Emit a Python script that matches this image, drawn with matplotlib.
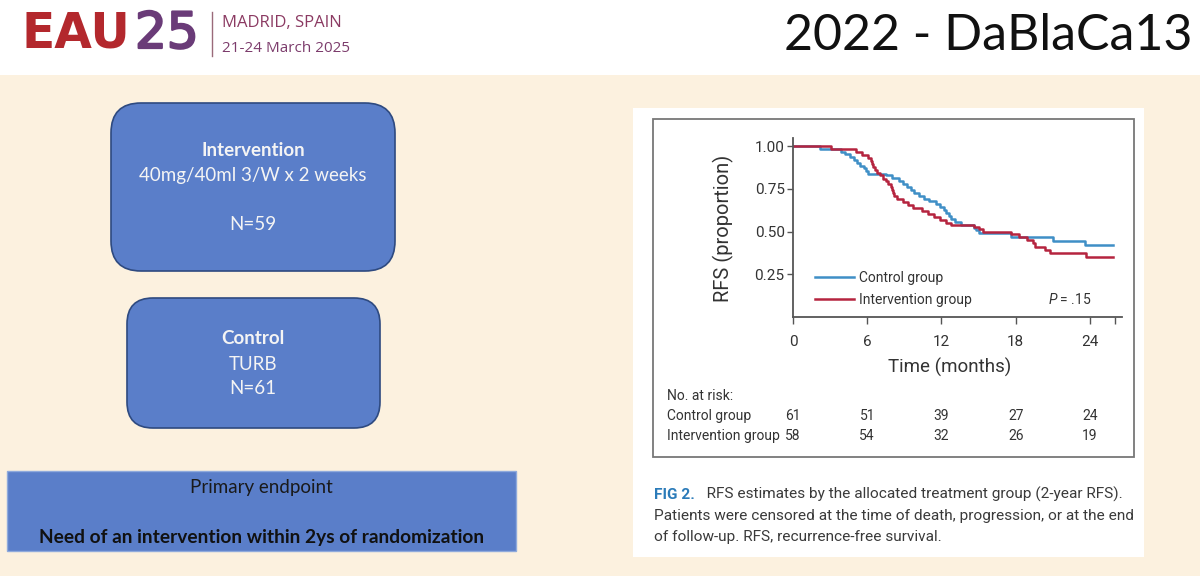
import matplotlib
matplotlib.use("Agg")
import matplotlib.pyplot as plt
from matplotlib.patches import Rectangle, FancyBboxPatch
import matplotlib.patheffects as pe
import matplotlib.transforms as mtransforms

# ---------------- data ----------------
ctrl_time = [0, 2.2, 3.9, 4.2, 4.6, 4.9, 5.2, 5.4, 5.7, 5.9, 6.1, 7.5, 8.0, 8.6, 8.9, 9.2,
             9.5, 9.8, 10.2, 10.6, 11.0, 11.6, 11.9, 12.2, 12.4, 12.6, 12.8, 13.1, 13.6,
             14.6, 14.8, 15.0, 17.6, 21.0, 23.6]
ctrl_surv = [1.0, 0.984, 0.967, 0.951, 0.934, 0.918, 0.902, 0.885, 0.869, 0.852, 0.836,
             0.828, 0.812, 0.795, 0.778, 0.761, 0.744, 0.727, 0.710, 0.693, 0.676, 0.659,
             0.642, 0.625, 0.608, 0.591, 0.574, 0.557, 0.540, 0.523, 0.506, 0.489, 0.470,
             0.445, 0.420]
int_time = [0, 3.1, 5.1, 5.6, 6.1, 6.3, 6.4, 6.5, 6.6, 6.8, 7.0, 7.3, 7.5, 7.7, 7.9, 8.0,
            8.1, 8.2, 8.4, 8.9, 9.3, 9.7, 10.4, 10.9, 11.4, 11.9, 12.4, 12.8, 14.6, 15.0,
            15.4, 17.6, 18.3, 18.9, 19.4, 19.6, 20.4, 20.8, 23.7]
int_surv = [1.0, 0.983, 0.966, 0.948, 0.931, 0.914, 0.897, 0.879, 0.862, 0.845, 0.828,
            0.810, 0.793, 0.776, 0.759, 0.741, 0.724, 0.707, 0.690, 0.672, 0.655, 0.638,
            0.621, 0.603, 0.586, 0.569, 0.552, 0.538, 0.528, 0.512, 0.497, 0.488, 0.470,
            0.452, 0.430, 0.410, 0.390, 0.372, 0.353]
end_time = 25.9
group_labels = ["Control group", "Intervention group"]
x_ticks = [0, 6, 12, 18, 24]
y_ticks = [0.25, 0.50, 0.75, 1.00]
y_tick_labels = ["0.25", "0.50", "0.75", "1.00"]
risk_times = [0, 6, 12, 18, 24]
risk_ctrl = [61, 51, 39, 27, 24]
risk_int = [58, 54, 32, 26, 19]
p_text = ".15"

# ---------------- style ----------------
CREAM = "#FCF1DF"
BOX_BLUE = "#5A7EC9"
C_CTRL = "#3F8FC6"
C_INT = "#B5243F"
TXT = "#333333"
KMF = "Roboto"
SLF = "Lato"

plt.rcParams["mathtext.fontset"] = "custom"
plt.rcParams["mathtext.it"] = "Roboto:italic"
plt.rcParams["mathtext.rm"] = "Roboto"

fig = plt.figure(figsize=(12, 5.76), dpi=100)
fig.patch.set_facecolor(CREAM)

bg = fig.add_axes([0, 0, 1, 1], zorder=0)
bg.set_xlim(0, 1200)
bg.set_ylim(576, 0)
bg.axis("off")

# header
bg.add_patch(Rectangle((0, 0), 1200, 75, facecolor="white", edgecolor="none"))
bg.text(22, 48, "EAU", fontsize=35, fontweight="bold", color="#B3282D",
        family="DejaVu Sans", va="baseline", ha="left")
bg.text(135, 48, "25", fontsize=36, color="#6A3B78", family="DejaVu Sans",
        va="baseline", ha="left",
        path_effects=[pe.withStroke(linewidth=1.6, foreground="#6A3B78")])
bg.plot([212, 212], [12, 56], color="#9A6A7A", lw=1)
bg.text(222, 23, "MADRID, SPAIN", fontsize=12, color="#8B3A62", family="Open Sans",
        va="center", ha="left")
bg.text(222, 49, "21-24 March 2025", fontsize=11, color="#7C3C6C", family="Open Sans",
        va="center", ha="left")
bg.text(1192, 36, "2022 - DaBlaCa13", fontsize=36, color="#111111", family=SLF,
        va="center", ha="right")

# left boxes
bg.add_patch(FancyBboxPatch((111, 103), 284, 168, boxstyle="round,pad=0,rounding_size=30",
                            facecolor=BOX_BLUE, edgecolor="#2E4A80", lw=1.2))
bg.add_patch(FancyBboxPatch((127, 298), 253, 130, boxstyle="round,pad=0,rounding_size=26",
                            facecolor=BOX_BLUE, edgecolor="#2E4A80", lw=1.2))
bg.add_patch(Rectangle((7, 471), 509, 80, facecolor=BOX_BLUE, edgecolor="#8FAADC", lw=1))

WTXT = "#F4F4F4"
bg.text(253, 151, "Intervention", fontsize=13.5, fontweight="bold", color=WTXT,
        family=SLF, ha="center", va="center")
bg.text(253, 176, "40mg/40ml 3/W x 2 weeks", fontsize=13.5, color=WTXT,
        family=SLF, ha="center", va="center")
bg.text(253, 225, "N=59", fontsize=13.5, color=WTXT, family=SLF, ha="center", va="center")
bg.text(253, 339, "Control", fontsize=13.5, fontweight="bold", color=WTXT,
        family=SLF, ha="center", va="center")
bg.text(253, 364, "TURB", fontsize=13.5, color=WTXT, family=SLF, ha="center", va="center")
bg.text(253, 388, "N=61", fontsize=13.5, color=WTXT, family=SLF, ha="center", va="center")
bg.text(261, 488, "Primary endpoint", fontsize=13.5, color="#1A1A1A", family=SLF,
        ha="center", va="center")
bg.text(262, 537, "Need of an intervention within 2ys of randomization", fontsize=13.8,
        fontweight="bold", color="#111111", family=SLF, ha="center", va="center")

# right white panel + figure box
bg.add_patch(Rectangle((633, 108), 511, 449, facecolor="white", edgecolor="none"))
bg.add_patch(Rectangle((653, 119), 481, 338, facecolor="none", edgecolor="#777777", lw=1.3))

# ---------------- KM axes ----------------
ax = fig.add_axes([793 / 1200, 1 - 317 / 576, 329 / 1200, 179.5 / 576], zorder=2)
ax.set_facecolor("none")
ax.step(ctrl_time + [end_time], ctrl_surv + [ctrl_surv[-1]], where="post",
        color=C_CTRL, lw=1.8, label=group_labels[0])
ax.step(int_time + [end_time], int_surv + [int_surv[-1]], where="post",
        color=C_INT, lw=1.8, label=group_labels[1])
ax.set_xlim(0, 26.6)
ax.set_ylim(0, 1.05)
for s in ["top", "right"]:
    ax.spines[s].set_visible(False)
for s in ["left", "bottom"]:
    ax.spines[s].set_color("#555555")
    ax.spines[s].set_linewidth(1.3)
ax.set_xticks(x_ticks)
ax.set_xticklabels([str(t) for t in x_ticks], family=KMF)
ax.set_xticks([26], minor=True)
ax.set_yticks(y_ticks)
ax.set_yticklabels(y_tick_labels, family=KMF)
ax.tick_params(axis="x", which="both", direction="out", length=5, width=1, color="#555555",
               labelsize=11, labelcolor=TXT, pad=8)
ax.tick_params(axis="y", direction="out", length=4, width=1, color="#555555",
               labelsize=11, labelcolor=TXT, pad=2)

ax.legend(loc="upper left", bbox_to_anchor=(0.067, 0.255), frameon=False,
          prop={"family": KMF, "size": 10}, labelcolor=TXT, handlelength=2.8,
          handletextpad=0.4, labelspacing=0.55, borderpad=0, borderaxespad=0)
ax.text(20.6, 0.10, r"$\mathit{P}$ = " + p_text, fontsize=10, color=TXT, family=KMF,
        va="center", ha="left")

bg.text(723, 228, "RFS (proportion)", rotation=90, fontsize=14.5, color=TXT, family=KMF,
        ha="center", va="center")
bg.text(950, 367, "Time (months)", fontsize=13.5, color=TXT, family=KMF,
        ha="center", va="center")

# risk table
tr = mtransforms.blended_transform_factory(ax.transData, bg.transData)
bg.text(667, 396, "No. at risk:", fontsize=10, color=TXT, family=KMF, va="center")
bg.text(667, 416, group_labels[0], fontsize=10, color=TXT, family=KMF, va="center")
bg.text(667, 436, group_labels[1], fontsize=10, color=TXT, family=KMF, va="center")
for t, a, b in zip(risk_times, risk_ctrl, risk_int):
    ax.text(t, 416, str(a), transform=tr, fontsize=10, color=TXT, family=KMF,
            ha="center", va="center")
    ax.text(t, 436, str(b), transform=tr, fontsize=10, color=TXT, family=KMF,
            ha="center", va="center")

# caption
cap_fs = 11.1
f2 = bg.text(654, 495, "FIG 2.", fontsize=cap_fs, fontweight="bold", color="#2B7BB9",
             family=KMF, va="center", ha="left")
bg.annotate("   RFS estimates by the allocated treatment group (2-year RFS).",
            xy=(1, 0), xycoords=f2, fontsize=cap_fs, color="#3A3A3A", family=KMF,
            va="bottom", ha="left")
bg.text(654, 516, "Patients were censored at the time of death, progression, or at the end",
        fontsize=cap_fs, color="#3A3A3A", family=KMF, va="center", ha="left")
bg.text(654, 537, "of follow-up. RFS, recurrence-free survival.",
        fontsize=cap_fs, color="#3A3A3A", family=KMF, va="center", ha="left")

fig.savefig("out.png", dpi=100, facecolor=CREAM)
